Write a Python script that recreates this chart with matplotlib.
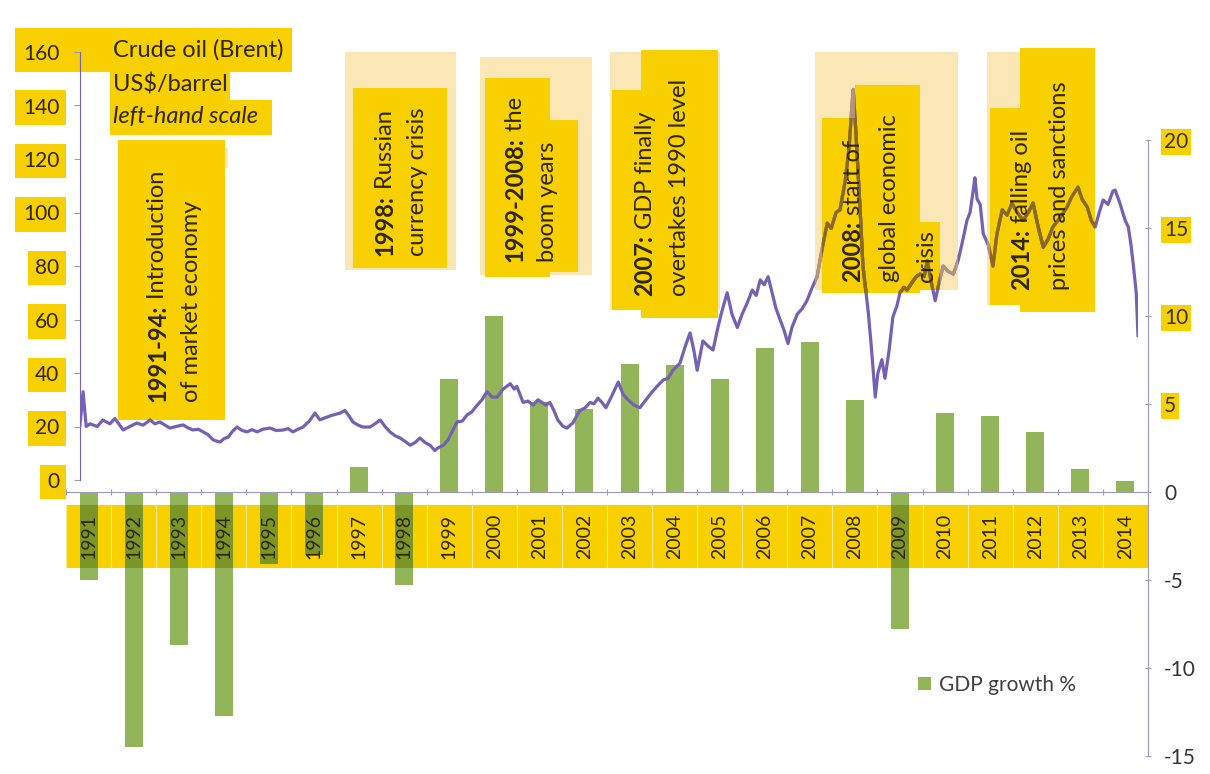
import numpy as np
import matplotlib.pyplot as plt
import matplotlib.transforms as mtransforms
from matplotlib.patches import Rectangle

plt.rcParams['font.family'] = ['Lato', 'DejaVu Sans']

# Russian GDP growth, % per year
years = list(range(1991, 2015))
gdp_growth = [-5.0, -14.5, -8.7, -12.7, -4.1, -3.6, 1.4, -5.3, 6.4, 10.0, 5.1, 4.7,
              7.3, 7.2, 6.4, 8.2, 8.5, 5.2, -7.8, 4.5, 4.3, 3.4, 1.3, 0.6]

# Brent crude, US$/barrel (decimal year, price)
oil_date = [
    1991.00, 1991.07, 1991.14, 1991.23, 1991.39, 1991.52, 1991.68, 1991.79, 1991.88, 1991.98,
    1992.13, 1992.29, 1992.43, 1992.59, 1992.70, 1992.81, 1992.93, 1993.04, 1993.18, 1993.34,
    1993.45, 1993.56, 1993.68, 1993.79, 1993.90, 1994.02, 1994.11, 1994.18, 1994.27, 1994.36,
    1994.45, 1994.56, 1994.68, 1994.79, 1994.90, 1995.02, 1995.15, 1995.31, 1995.45, 1995.61,
    1995.72, 1995.83, 1995.95, 1996.06, 1996.20, 1996.33, 1996.44, 1996.60, 1996.74, 1996.90,
    1997.01, 1997.10, 1997.19, 1997.31, 1997.42, 1997.58, 1997.69, 1997.81, 1997.92, 1998.03,
    1998.15, 1998.26, 1998.37, 1998.49, 1998.60, 1998.71, 1998.83, 1998.94, 1999.05, 1999.12,
    1999.24, 1999.35, 1999.44, 1999.55, 1999.67, 1999.78, 1999.89, 2000.01, 2000.12, 2000.23,
    2000.35, 2000.46, 2000.60, 2000.76, 2000.85, 2000.91, 2000.98, 2001.05, 2001.16, 2001.28,
    2001.39, 2001.48, 2001.57, 2001.66, 2001.75, 2001.84, 2001.96, 2002.05, 2002.12, 2002.18,
    2002.27, 2002.34, 2002.46, 2002.57, 2002.66, 2002.75, 2002.84, 2002.93, 2003.05, 2003.21,
    2003.32, 2003.43, 2003.57, 2003.70, 2003.84, 2003.98, 2004.09, 2004.23, 2004.34, 2004.45,
    2004.61, 2004.73, 2004.84, 2004.93, 2005.00, 2005.07, 2005.13, 2005.25, 2005.36, 2005.47,
    2005.56, 2005.68, 2005.79, 2005.91, 2006.02, 2006.13, 2006.25, 2006.34, 2006.43, 2006.52,
    2006.61, 2006.70, 2006.79, 2006.88, 2006.97, 2007.06, 2007.15, 2007.27, 2007.38, 2007.49,
    2007.61, 2007.72, 2007.83, 2007.95, 2008.04, 2008.15, 2008.24, 2008.36, 2008.45, 2008.51,
    2008.54, 2008.60, 2008.70, 2008.76, 2008.83, 2008.88, 2008.95, 2009.04, 2009.10, 2009.19,
    2009.26, 2009.35, 2009.44, 2009.53, 2009.60, 2009.69, 2009.76, 2009.88, 2009.97, 2010.06,
    2010.15, 2010.22, 2010.31, 2010.40, 2010.49, 2010.58, 2010.69, 2010.81, 2010.92, 2011.03,
    2011.12, 2011.19, 2011.26, 2011.30, 2011.35, 2011.42, 2011.49, 2011.60, 2011.71, 2011.80,
    2011.92, 2012.03, 2012.14, 2012.26, 2012.39, 2012.51, 2012.62, 2012.73, 2012.85, 2012.96,
    2013.07, 2013.23, 2013.39, 2013.50, 2013.64, 2013.73, 2013.85, 2013.94, 2014.03, 2014.12,
    2014.21, 2014.32, 2014.43, 2014.48, 2014.59, 2014.71, 2014.78, 2014.84, 2014.89, 2014.96,
    2015.00]
oil_price = [
    20.5, 33.0, 20.0, 21.0, 20.0, 22.4, 21.0, 23.0, 21.0, 18.7,
    20.0, 21.3, 20.5, 22.4, 21.0, 21.7, 20.5, 19.4, 20.0, 20.6,
    19.5, 18.7, 19.0, 18.0, 17.0, 15.0, 14.5, 14.2, 15.5, 16.0,
    18.0, 19.8, 18.5, 18.0, 18.8, 18.0, 19.0, 19.4, 18.5, 18.7,
    19.2, 18.0, 19.0, 19.8, 22.0, 25.0, 22.5, 23.5, 24.3, 25.0,
    26.0, 24.0, 21.7, 20.5, 19.8, 19.8, 21.0, 22.4, 20.0, 18.0,
    16.5, 15.7, 14.5, 13.0, 14.0, 15.7, 14.0, 13.0, 11.0, 12.0,
    13.0, 15.0, 18.0, 21.7, 22.0, 24.3, 25.5, 28.0, 30.0, 33.0,
    31.0, 31.0, 34.0, 36.0, 34.0, 35.0, 32.0, 29.0, 29.5, 28.0,
    30.0, 29.0, 28.0, 29.0, 26.0, 22.4, 20.0, 19.4, 20.5, 21.3,
    24.0, 26.0, 27.0, 29.0, 28.5, 30.6, 29.0, 27.0, 31.0, 36.6,
    32.0, 30.0, 28.0, 27.0, 30.0, 33.0, 35.0, 37.4, 38.0, 41.0,
    43.7, 50.0, 55.0, 48.0, 41.0, 47.0, 52.0, 50.0, 48.6, 57.0,
    63.0, 70.0, 62.0, 57.0, 62.0, 66.0, 71.0, 69.0, 74.8, 73.0,
    76.0, 70.0, 64.0, 60.0, 56.0, 51.0, 57.0, 62.0, 64.0, 67.0,
    72.0, 76.0, 86.0, 96.0, 94.0, 100.0, 101.0, 112.0, 125.0, 140.0,
    146.0, 130.0, 100.0, 80.0, 70.0, 63.0, 50.0, 31.0, 40.0, 45.0,
    38.0, 48.0, 61.0, 65.0, 70.0, 72.0, 71.0, 74.0, 76.0, 77.0,
    76.0, 82.0, 74.0, 67.0, 74.0, 80.0, 78.0, 77.0, 82.0, 90.0,
    97.0, 100.0, 108.0, 113.0, 105.0, 103.0, 92.0, 88.0, 80.0, 92.0,
    101.0, 99.0, 103.5, 100.0, 97.0, 100.0, 103.5, 95.0, 87.0, 90.0,
    94.6, 98.0, 102.0, 106.0, 109.5, 105.0, 102.0, 97.0, 94.6, 100.0,
    104.7, 103.0, 108.0, 108.4, 103.5, 97.0, 94.6, 88.0, 81.0, 70.0,
    54.0]

notes = [
    [("1991-94:", " Introduction"), ("", "of market economy")],
    [("1998:", " Russian"), ("", "currency crisis")],
    [("1999-2008:", " the"), ("", "boom years")],
    [("2007:", " GDP finally"), ("", "overtakes 1990 level")],
    [("2008:", " start of"), ("", "global economic"), ("", "crisis")],
    [("2014:", " falling oil"), ("", "prices and sanctions")],
]

YELLOW = '#f8d000'
PALE = '#fbe7b5'
GREEN = '#92b55a'
OLIVE = '#7b9626'
PURPLE = '#7461b3'
BROWN = '#8c6a1c'
PALE_LINE = '#b5947c'
AXIS = '#9c98c8'
TEXT = '#2e2600'

W, H = 1210, 774
fig = plt.figure(figsize=(W / 100, H / 100), dpi=100)
# pixel coordinates measured from the top-left corner
px = mtransforms.Affine2D().scale(1 / W, -1 / H).translate(0, 1) + fig.transFigure


def rect_at(x0, y0, x1, y1):
    return [x0 / W, 1 - y1 / H, (x1 - x0) / W, (y1 - y0) / H]


# ---- GDP bars, right-hand scale ----
ax_gdp = fig.add_axes(rect_at(66, 140, 1148, 756))
x = np.arange(len(years))
ax_gdp.bar(x, gdp_growth, width=0.4, color=GREEN, label='GDP growth %', zorder=2)

band = Rectangle((-0.5, -4.32), len(years), 3.58, fc=YELLOW, ec='none', zorder=1)
ax_gdp.add_patch(band)
inner = ax_gdp.bar(x, gdp_growth, width=0.4, color=OLIVE, zorder=3)
for p in inner:
    p.set_clip_path(band)
ax_gdp.vlines(np.arange(-0.5, len(years)), -4.32, -0.74, color='white', lw=0.8,
              alpha=0.6, zorder=1.5)
for i, yr in enumerate(years):
    ax_gdp.text(i, -2.53, str(yr), rotation=90, ha='center', va='center',
                fontsize=14, color=TEXT, zorder=4)

ax_gdp.set_xlim(-0.5, len(years) - 0.5)
ax_gdp.set_ylim(-15, 20)
for s in ['left', 'top']:
    ax_gdp.spines[s].set_visible(False)
ax_gdp.spines['bottom'].set_position(('data', 0))
ax_gdp.spines['bottom'].set_color(AXIS)
ax_gdp.spines['right'].set_color(AXIS)
ax_gdp.set_xticks(np.arange(-0.5, len(years), 1))
ax_gdp.set_xticklabels([])
ax_gdp.tick_params(axis='x', length=5, color=AXIS, direction='inout')
ax_gdp.yaxis.tick_right()
gdp_ticks = list(range(-15, 21, 5))
ax_gdp.set_yticks(gdp_ticks, labels=[str(t) for t in gdp_ticks])
ax_gdp.tick_params(axis='y', labelsize=15, length=5, color=AXIS, pad=9,
                   direction='inout', labelcolor='#333333')
for t, lab in zip(gdp_ticks, ax_gdp.get_yticklabels()):
    if t > 0:
        lab.set_bbox(dict(boxstyle='square,pad=0.15', fc=YELLOW, ec='none'))

ax_gdp.legend(loc='center left', bbox_to_anchor=(918 / W, 1 - 685 / H),
              bbox_transform=fig.transFigure, frameon=False, fontsize=15,
              handlelength=0.6, handleheight=0.6, handletextpad=0.4,
              borderpad=0, borderaxespad=0, labelcolor='#404040')

# ---- Brent price, left-hand scale ----
ax_oil = fig.add_axes(rect_at(80, 52, 1138, 480))
ax_oil.patch.set_visible(False)

pale_boxes = [(345, 52, 456, 270), (480, 57, 592, 275), (610, 52, 720, 310),
              (815, 52, 958, 290), (987, 52, 1095, 305), (200, 148, 228, 168)]
yellow_boxes = [(15, 28, 292, 72), (110, 72, 230, 100), (110, 100, 272, 135),
                (118, 140, 225, 420), (353, 88, 447, 268), (485, 78, 550, 277),
                (520, 120, 578, 272), (612, 90, 690, 310), (641, 50, 718, 318),
                (822, 118, 918, 293), (855, 85, 920, 293), (898, 222, 940, 290),
                (990, 108, 1052, 305), (1020, 48, 1095, 312)]


def add_box(b, color, z):
    r = Rectangle((b[0], b[1]), b[2] - b[0], b[3] - b[1], transform=px,
                  fc=color, ec='none', zorder=z, clip_on=False)
    ax_oil.add_patch(r)
    return r


pale_rects = [add_box(b, PALE, 1) for b in pale_boxes]
yellow_rects = [add_box(b, YELLOW, 1.5) for b in yellow_boxes]

ax_oil.plot(oil_date, oil_price, color=PURPLE, lw=2.3, zorder=2)
# the line seen through the highlight boxes
for rects, col, z in [(pale_rects, PALE_LINE, 3), (yellow_rects, BROWN, 3.1)]:
    for r in rects:
        ln, = ax_oil.plot(oil_date, oil_price, color=col, lw=2.3, zorder=z)
        ln.set_clip_path(r)

ax_oil.set_xlim(1991, 2015)
ax_oil.set_ylim(0, 160)
for s in ['right', 'top', 'bottom']:
    ax_oil.spines[s].set_visible(False)
ax_oil.spines['left'].set_color(PURPLE)
ax_oil.set_xticks([])
ax_oil.set_yticks(range(0, 161, 20))
ax_oil.tick_params(axis='y', labelsize=15, length=4, color=AXIS, pad=11,
                   labelcolor=TEXT)
for lab in ax_oil.get_yticklabels():
    lab.set_bbox(dict(boxstyle='square,pad=0.35', fc=YELLOW, ec='none'))

kw = dict(transform=px, fontsize=17, color=TEXT, ha='left', va='center', zorder=5)
ax_oil.text(113, 50, 'Crude oil (Brent)', **kw)
ax_oil.text(113, 85, 'US$/barrel', **kw)
ax_oil.text(113, 117, 'left-hand scale', style='italic', **kw)

note_x = [[158, 191], [385, 418], [515, 548], [645, 680], [853, 890, 927], [1022, 1060]]
note_bottom = [402, 256, 262, 296, 282, 290]
nkw = dict(fontsize=17, color=TEXT, rotation=90, ha='center', va='bottom', zorder=5)
for lines, xs, yb in zip(notes, note_x, note_bottom):
    for (bold, rest), xl in zip(lines, xs):
        if bold:
            t = ax_oil.text(xl, yb, bold, transform=px, fontweight='bold', **nkw)
            ax_oil.annotate(rest, xy=(0.5, 1), xycoords=t, **nkw)
        else:
            ax_oil.text(xl, yb, rest, transform=px, **nkw)

fig.savefig('out.png', dpi=100)
